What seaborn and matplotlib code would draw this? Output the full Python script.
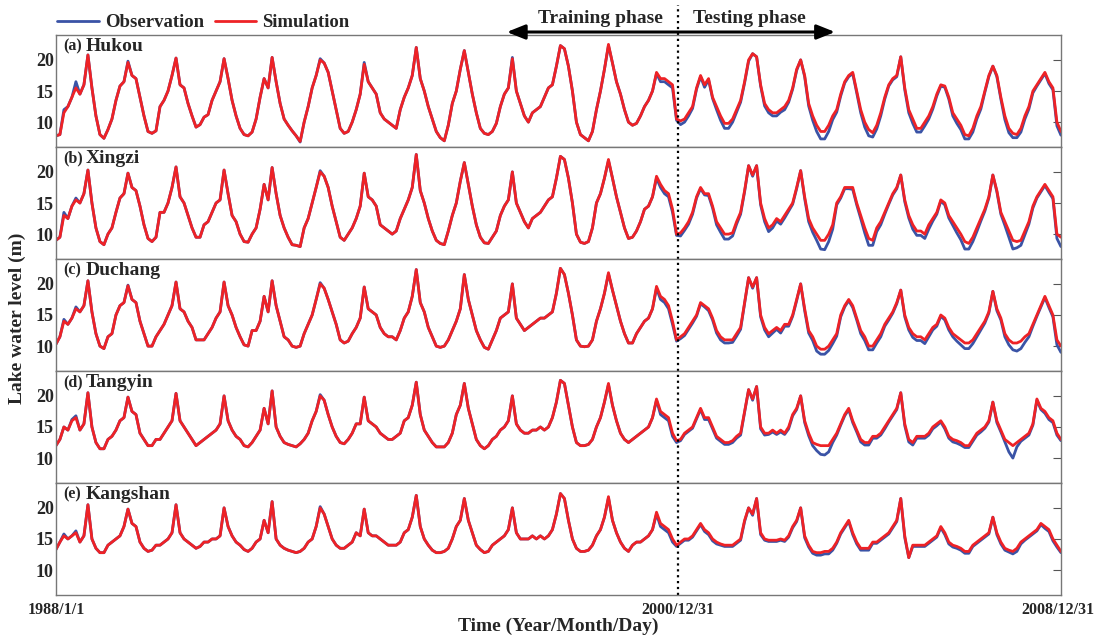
import numpy as np
import pandas as pd
import matplotlib
matplotlib.use("Agg")
import matplotlib.pyplot as plt
import matplotlib.dates as mdates
import matplotlib.transforms as mtransforms
import seaborn as sns

# monthly lake water level (m), Jan..Dec, one line per year 1988 ... 2008
hukou_obs = [
    7.8, 8.0, 12.0, 12.5, 14.0, 16.5, 14.5, 16.0, 20.8, 15.5, 11.0, 8.0,
    7.4, 8.8, 10.5, 13.5, 15.8, 16.5, 19.8, 17.5, 17.0, 14.0, 11.0, 8.5,
    8.2, 8.6, 12.5, 13.5, 15.0, 17.5, 20.3, 16.0, 15.5, 13.0, 11.0, 9.2,
    9.6, 10.8, 11.2, 13.5, 15.0, 16.5, 20.2, 17.0, 13.5, 11.0, 9.0, 8.0,
    7.8, 8.4, 10.5, 14.0, 17.0, 15.5, 20.4, 16.5, 13.0, 10.5, 9.5, 8.6,
    7.8, 6.8, 10.0, 12.5, 15.5, 17.5, 20.2, 19.5, 18.0, 15.0, 12.0, 9.0,
    8.2, 8.5, 10.0, 12.0, 14.5, 19.6, 16.5, 15.5, 14.5, 11.5, 10.5, 10.0,
    9.5, 9.0, 12.0, 14.0, 15.5, 17.5, 22.0, 17.0, 15.0, 12.5, 10.5, 8.5,
    7.5, 7.0, 9.5, 13.0, 15.0, 18.5, 21.5, 18.0, 14.5, 11.5, 9.0, 8.2,
    8.0, 8.5, 9.8, 12.5, 14.5, 15.5, 20.4, 15.0, 13.0, 11.0, 10.0, 11.5,
    12.0, 12.5, 14.0, 15.5, 16.0, 19.0, 22.3, 21.8, 19.0, 15.0, 10.0, 8.0,
    7.5, 7.0, 8.5, 12.0, 15.0, 18.5, 22.3, 19.5, 16.5, 14.5, 12.0, 10.0,
    9.5, 9.8, 11.0, 12.5, 13.5, 15.0, 17.8, 16.5, 16.5, 16.0, 15.5, 10.3,
    9.6, 10.0, 11.0, 12.2, 15.3, 17.3, 15.6, 16.8, 13.8, 12.0, 10.3, 9.0,
    9.0, 10.0, 11.6, 13.2, 16.3, 19.8, 21.0, 20.5, 15.8, 12.6, 11.5, 11.0,
    11.0, 11.6, 12.0, 13.2, 15.3, 18.3, 20.0, 17.3, 12.6, 10.3, 8.5, 7.3,
    7.3, 8.5, 10.4, 11.6, 14.2, 16.3, 17.3, 17.8, 14.7, 11.5, 9.2, 7.8,
    7.6, 8.9, 11.0, 13.7, 15.8, 16.8, 17.3, 20.5, 15.2, 11.5, 9.8, 8.4,
    8.4, 9.4, 10.5, 12.1, 14.2, 15.8, 15.6, 13.7, 11.0, 9.8, 8.8, 7.3,
    7.3, 8.4, 10.5, 12.1, 14.8, 17.3, 19.0, 17.3, 13.7, 10.4, 8.3, 7.5,
    7.5, 8.4, 10.5, 12.1, 14.7, 15.8, 16.8, 17.8, 16.2, 15.2, 9.4, 7.9,
]
hukou_sim = [
    7.8, 8.0, 11.5, 12.5, 14.0, 15.5, 14.5, 16.0, 20.8, 15.5, 11.0, 8.0,
    7.4, 8.8, 10.5, 13.5, 15.8, 16.5, 19.6, 17.5, 17.0, 14.0, 11.0, 8.5,
    8.2, 8.6, 12.5, 13.5, 15.0, 17.5, 20.3, 16.0, 15.5, 13.0, 11.0, 9.2,
    9.6, 10.8, 11.2, 13.5, 15.0, 16.5, 20.2, 17.0, 13.5, 11.0, 9.0, 8.0,
    7.8, 8.4, 10.5, 14.0, 17.0, 15.5, 20.4, 16.5, 13.0, 10.5, 9.5, 8.6,
    7.8, 6.9, 10.0, 12.5, 15.5, 17.5, 20.0, 19.5, 18.0, 15.0, 12.0, 9.0,
    8.2, 8.5, 10.0, 12.0, 14.5, 19.3, 16.5, 15.5, 14.5, 11.5, 10.5, 10.0,
    9.5, 9.0, 12.0, 14.0, 15.5, 17.5, 22.0, 17.0, 15.0, 12.5, 10.5, 8.5,
    7.5, 7.0, 9.5, 13.0, 15.0, 18.5, 21.5, 18.0, 14.5, 11.5, 9.0, 8.2,
    8.0, 8.5, 9.8, 12.5, 14.5, 15.5, 20.2, 15.0, 13.0, 11.0, 10.0, 11.5,
    12.0, 12.5, 14.0, 15.5, 16.0, 19.0, 22.3, 21.8, 19.0, 15.0, 10.0, 8.0,
    7.5, 7.0, 8.5, 12.0, 15.0, 18.5, 22.5, 19.5, 16.5, 14.5, 12.0, 10.0,
    9.5, 9.8, 11.0, 12.5, 13.5, 15.0, 18.0, 17.0, 17.0, 16.5, 16.0, 10.5,
    10.2, 10.5, 11.5, 12.5, 15.5, 17.5, 16.0, 17.0, 14.0, 12.5, 11.0, 9.8,
    9.8, 10.5, 12.0, 13.5, 16.5, 20.0, 21.0, 20.5, 16.0, 13.0, 12.0, 11.5,
    11.5, 12.0, 12.5, 13.5, 15.5, 18.5, 20.0, 17.5, 13.0, 11.0, 9.5, 8.5,
    8.5, 9.5, 11.0, 12.0, 14.5, 16.5, 17.5, 18.0, 15.0, 12.0, 10.0, 8.8,
    8.3, 9.5, 11.5, 14.0, 16.0, 17.0, 17.5, 20.5, 15.5, 12.0, 10.5, 9.0,
    9.0, 10.0, 11.0, 12.5, 14.5, 16.0, 15.8, 14.0, 11.5, 10.5, 9.5, 8.0,
    7.8, 9.0, 11.0, 12.5, 15.0, 17.5, 19.0, 17.5, 14.0, 11.0, 9.0, 8.2,
    8.0, 9.0, 11.0, 12.5, 15.0, 16.0, 17.0, 18.0, 16.5, 15.5, 10.0, 8.5,
]

xingzi_obs = [
    9.0, 9.5, 13.5, 12.5, 14.5, 15.8, 15.0, 16.5, 20.3, 15.0, 11.0, 8.8,
    8.3, 10.0, 11.0, 13.5, 15.8, 16.5, 19.8, 17.5, 17.0, 14.5, 11.5, 9.3,
    8.8, 9.5, 13.5, 13.5, 15.0, 17.5, 20.8, 16.0, 15.0, 13.0, 11.0, 9.5,
    9.5, 11.5, 12.0, 13.5, 15.0, 15.5, 20.3, 16.5, 13.0, 12.0, 10.0, 8.8,
    8.7, 10.0, 11.0, 14.0, 18.0, 15.5, 20.7, 16.5, 13.0, 11.0, 9.5, 8.3,
    8.2, 8.0, 11.0, 12.5, 15.0, 17.5, 20.2, 19.3, 17.5, 14.5, 12.0, 9.5,
    9.0, 10.0, 11.0, 12.5, 14.5, 19.8, 16.0, 15.5, 14.5, 11.5, 11.0, 10.5,
    10.0, 10.5, 12.5, 14.0, 15.5, 17.5, 22.8, 17.0, 15.0, 12.5, 10.5, 9.0,
    8.5, 8.3, 10.5, 13.0, 15.0, 18.5, 21.5, 18.0, 14.5, 11.5, 9.5, 8.6,
    8.5, 9.5, 10.5, 13.0, 14.5, 15.5, 20.0, 15.0, 13.5, 12.0, 11.0, 12.5,
    13.0, 13.5, 14.5, 15.5, 16.0, 19.0, 22.5, 22.0, 19.0, 15.0, 10.0, 8.7,
    8.5, 8.8, 11.0, 15.0, 16.5, 19.0, 21.8, 19.0, 16.0, 13.5, 11.0, 9.3,
    9.5, 10.5, 12.0, 14.0, 14.5, 16.0, 19.0, 17.5, 16.5, 16.0, 13.5, 9.8,
    9.7, 10.6, 11.6, 13.2, 15.8, 17.3, 16.3, 16.2, 14.2, 11.5, 10.3, 9.2,
    9.2, 9.7, 11.6, 13.2, 16.8, 21.0, 19.3, 21.0, 14.7, 12.0, 10.4, 11.0,
    12.1, 11.6, 12.6, 13.7, 14.8, 17.3, 20.2, 15.7, 12.0, 10.3, 9.0, 7.6,
    7.5, 8.8, 10.8, 14.7, 15.8, 17.3, 17.3, 17.2, 14.7, 12.5, 10.2, 8.2,
    8.2, 10.4, 11.5, 13.2, 14.8, 16.3, 17.3, 19.5, 15.2, 12.6, 10.8, 9.8,
    9.8, 9.3, 10.8, 12.1, 13.2, 15.3, 14.7, 12.6, 11.4, 10.2, 9.1, 7.6,
    7.6, 8.8, 10.4, 12.1, 13.7, 15.8, 19.5, 16.8, 13.2, 11.4, 9.5, 7.6,
    7.8, 8.2, 9.9, 11.6, 14.2, 15.8, 16.8, 17.8, 16.7, 15.7, 9.3, 8.0,
]
xingzi_sim = [
    9.0, 9.5, 13.0, 12.5, 14.5, 15.5, 15.0, 16.5, 20.3, 15.0, 11.0, 8.8,
    8.3, 10.0, 11.0, 13.5, 15.8, 16.5, 19.8, 17.5, 17.0, 14.5, 11.5, 9.3,
    8.8, 9.5, 13.5, 13.5, 15.0, 17.5, 20.8, 16.0, 15.0, 13.0, 11.0, 9.5,
    9.5, 11.5, 12.0, 13.5, 15.0, 15.5, 20.3, 16.5, 13.0, 12.0, 10.0, 8.8,
    8.7, 10.0, 11.0, 14.0, 18.0, 15.5, 20.7, 16.5, 13.0, 11.0, 9.5, 8.3,
    8.2, 8.0, 11.0, 12.5, 15.0, 17.5, 20.0, 19.3, 17.5, 14.5, 12.0, 9.5,
    9.0, 10.0, 11.0, 12.5, 14.5, 19.8, 16.0, 15.5, 14.5, 11.5, 11.0, 10.5,
    10.0, 10.5, 12.5, 14.0, 15.5, 17.5, 22.8, 17.0, 15.0, 12.5, 10.5, 9.0,
    8.5, 8.3, 10.5, 13.0, 15.0, 18.5, 21.5, 18.0, 14.5, 11.5, 9.5, 8.6,
    8.5, 9.5, 10.5, 13.0, 14.5, 15.5, 20.0, 15.0, 13.5, 12.0, 11.0, 12.5,
    13.0, 13.5, 14.5, 15.5, 16.0, 19.0, 22.5, 22.0, 19.0, 15.0, 10.0, 8.7,
    8.5, 8.8, 11.0, 15.0, 16.5, 19.0, 22.0, 19.0, 16.0, 13.5, 11.0, 9.3,
    9.5, 10.5, 12.0, 14.0, 14.5, 16.0, 19.3, 18.0, 17.0, 16.5, 14.0, 10.0,
    10.2, 11.0, 12.0, 13.5, 16.0, 17.5, 16.5, 16.5, 14.5, 12.0, 11.0, 10.0,
    10.0, 10.2, 12.0, 13.5, 17.0, 21.0, 19.5, 21.0, 15.0, 12.5, 11.0, 11.5,
    12.5, 12.0, 13.0, 14.0, 15.0, 17.5, 20.2, 16.0, 12.5, 11.0, 10.0, 9.0,
    9.0, 10.0, 11.5, 15.0, 16.0, 17.5, 17.5, 17.5, 15.0, 13.0, 11.0, 9.3,
    9.0, 11.0, 12.0, 13.5, 15.0, 16.5, 17.5, 19.5, 15.5, 13.0, 11.5, 10.5,
    10.5, 10.0, 11.5, 12.5, 13.5, 15.5, 15.0, 13.0, 12.0, 11.0, 10.0, 8.8,
    8.5, 9.5, 11.0, 12.5, 14.0, 16.0, 19.5, 17.0, 13.5, 12.0, 10.5, 9.0,
    8.8, 9.0, 10.5, 12.0, 14.5, 16.0, 17.0, 18.0, 17.0, 16.0, 10.0, 9.5,
]

duchang_obs = [
    10.3, 11.5, 14.3, 13.5, 14.5, 16.3, 15.5, 16.5, 20.5, 15.5, 12.0, 10.0,
    9.6, 11.5, 12.0, 15.0, 16.5, 17.0, 19.8, 17.5, 17.0, 14.0, 12.0, 10.0,
    10.0, 11.5, 12.5, 13.5, 15.0, 16.5, 20.3, 16.0, 15.5, 14.0, 13.0, 11.0,
    11.0, 11.0, 12.0, 13.0, 14.5, 15.5, 20.3, 16.5, 15.0, 13.0, 11.5, 10.2,
    10.0, 12.5, 12.5, 14.0, 18.0, 15.5, 20.5, 16.5, 14.0, 11.5, 11.0, 10.0,
    9.8, 10.0, 12.0, 13.5, 15.0, 17.5, 20.2, 19.3, 17.5, 15.5, 13.5, 11.0,
    10.5, 10.8, 12.0, 13.0, 14.5, 19.5, 16.0, 15.5, 15.0, 13.0, 12.0, 11.5,
    11.5, 11.0, 12.5, 14.5, 15.5, 18.0, 22.3, 17.0, 15.5, 13.0, 11.5, 10.0,
    9.8, 10.0, 11.0, 12.5, 14.0, 16.0, 21.5, 17.5, 15.0, 12.5, 11.0, 9.8,
    9.5, 11.0, 12.5, 14.5, 15.0, 15.5, 20.0, 14.5, 13.5, 12.5, 13.0, 13.5,
    14.0, 14.5, 14.5, 15.0, 15.5, 18.5, 22.5, 21.5, 18.5, 15.0, 11.0, 10.0,
    9.9, 10.0, 11.0, 14.0, 16.0, 18.5, 21.6, 19.0, 16.5, 14.0, 12.0, 10.5,
    10.5, 12.0, 13.0, 14.0, 14.5, 16.0, 19.3, 17.5, 17.0, 16.0, 13.5, 10.8,
    11.2, 11.7, 12.7, 13.7, 14.8, 16.8, 16.3, 15.7, 14.2, 12.1, 11.0, 10.5,
    10.5, 10.6, 11.6, 12.7, 16.8, 21.0, 19.3, 21.0, 14.7, 12.6, 11.5, 12.1,
    12.7, 12.1, 13.2, 13.2, 14.8, 17.3, 20.0, 15.7, 12.1, 10.9, 9.2, 8.7,
    8.7, 9.3, 10.4, 11.6, 14.7, 16.3, 17.3, 16.2, 14.2, 12.0, 10.9, 9.4,
    9.4, 10.5, 11.5, 13.2, 14.2, 15.3, 16.8, 19.0, 14.7, 12.6, 11.4, 10.9,
    10.9, 10.4, 11.5, 12.6, 13.2, 14.8, 14.2, 12.6, 11.5, 10.8, 10.2, 9.6,
    9.6, 10.4, 11.5, 12.6, 13.7, 15.3, 18.8, 15.7, 14.2, 11.5, 10.2, 9.4,
    9.2, 9.6, 10.6, 11.5, 13.2, 14.8, 16.3, 17.8, 16.2, 14.7, 10.2, 9.0,
]
duchang_sim = [
    10.3, 11.5, 14.0, 13.5, 14.5, 16.0, 15.5, 16.5, 20.5, 15.5, 12.0, 10.0,
    9.6, 11.5, 12.0, 15.0, 16.5, 17.0, 19.7, 17.5, 17.0, 14.0, 12.0, 10.0,
    10.0, 11.5, 12.5, 13.5, 15.0, 16.5, 20.3, 16.0, 15.5, 14.0, 13.0, 11.0,
    11.0, 11.0, 12.0, 13.0, 14.5, 15.5, 20.3, 16.5, 15.0, 13.0, 11.5, 10.2,
    10.0, 12.5, 12.5, 14.0, 18.0, 15.5, 20.5, 16.5, 14.0, 11.5, 11.0, 10.0,
    9.8, 10.0, 12.0, 13.5, 15.0, 17.5, 20.0, 19.3, 17.5, 15.5, 13.5, 11.0,
    10.5, 10.8, 12.0, 13.0, 14.5, 19.5, 16.0, 15.5, 15.0, 13.0, 12.0, 11.5,
    11.5, 11.0, 12.5, 14.5, 15.5, 18.0, 22.3, 17.0, 15.5, 13.0, 11.5, 10.0,
    9.8, 10.0, 11.0, 12.5, 14.0, 16.0, 21.5, 17.5, 15.0, 12.5, 11.0, 9.8,
    9.5, 11.0, 12.5, 14.5, 15.0, 15.5, 20.0, 14.5, 13.5, 12.5, 13.0, 13.5,
    14.0, 14.5, 14.5, 15.0, 15.5, 18.5, 22.5, 21.5, 18.5, 15.0, 11.0, 10.0,
    9.9, 10.0, 11.0, 14.0, 16.0, 18.5, 21.8, 19.0, 16.5, 14.0, 12.0, 10.5,
    10.5, 12.0, 13.0, 14.0, 14.5, 16.0, 19.6, 18.0, 17.5, 16.5, 14.0, 11.0,
    11.5, 12.0, 13.0, 14.0, 15.0, 17.0, 16.5, 16.0, 14.5, 12.5, 11.5, 11.0,
    11.0, 11.0, 12.0, 13.0, 17.0, 21.0, 19.5, 21.0, 15.0, 13.0, 12.0, 12.5,
    13.0, 12.5, 13.5, 13.5, 15.0, 17.5, 20.0, 16.0, 12.5, 11.5, 10.0, 9.5,
    9.5, 10.0, 11.0, 12.0, 15.0, 16.5, 17.5, 16.5, 14.5, 12.5, 11.5, 10.0,
    10.0, 11.0, 12.0, 13.5, 14.5, 15.5, 17.0, 19.0, 15.0, 13.0, 12.0, 11.5,
    11.5, 11.0, 12.0, 13.0, 13.5, 15.0, 14.5, 13.0, 12.0, 11.5, 11.0, 10.5,
    10.5, 11.0, 12.0, 13.0, 14.0, 15.5, 18.8, 16.0, 14.5, 12.0, 11.0, 10.5,
    10.5, 10.8, 11.5, 12.0, 13.5, 15.0, 16.5, 18.0, 16.5, 15.0, 11.0, 10.0,
]

tangyin_obs = [
    12.0, 13.0, 15.0, 14.5, 16.2, 16.8, 14.5, 15.5, 20.5, 15.0, 12.5, 11.5,
    11.5, 13.0, 13.5, 14.5, 16.0, 16.5, 19.8, 17.5, 17.0, 14.0, 13.0, 12.0,
    12.0, 13.0, 13.0, 14.0, 15.0, 16.0, 20.4, 16.0, 15.0, 14.0, 13.0, 12.0,
    12.5, 13.0, 13.5, 14.0, 14.5, 15.5, 20.0, 16.0, 14.5, 13.5, 13.0, 12.0,
    11.8, 12.5, 13.5, 14.5, 18.0, 15.5, 20.8, 15.0, 13.5, 12.5, 12.2, 12.0,
    11.8, 12.3, 13.0, 14.0, 16.0, 17.5, 20.2, 19.3, 17.0, 15.0, 13.5, 12.5,
    12.3, 13.0, 14.0, 15.5, 15.5, 19.8, 16.0, 15.5, 15.0, 14.0, 13.5, 13.0,
    13.0, 13.5, 14.0, 16.0, 16.5, 18.5, 22.2, 17.0, 14.5, 13.5, 12.5, 11.8,
    11.8, 11.8, 12.5, 14.0, 17.0, 18.5, 22.0, 18.0, 15.5, 13.0, 12.0, 11.5,
    12.0, 13.0, 13.5, 14.5, 15.0, 16.0, 20.0, 15.5, 14.5, 14.0, 14.0, 14.5,
    14.5, 15.0, 14.5, 15.0, 16.5, 19.0, 22.5, 22.0, 18.5, 15.0, 12.5, 12.0,
    12.0, 12.2, 13.0, 15.0, 16.5, 19.0, 21.8, 18.5, 16.0, 14.0, 13.0, 12.5,
    13.0, 13.5, 14.0, 14.5, 15.0, 16.5, 19.3, 17.0, 16.5, 16.0, 13.5, 12.5,
    12.8, 13.8, 14.3, 14.8, 16.3, 17.8, 16.2, 16.2, 14.7, 13.2, 12.7, 12.2,
    12.2, 12.5, 13.2, 13.7, 17.3, 21.0, 19.3, 21.5, 14.7, 13.7, 13.8, 14.2,
    13.8, 14.2, 13.8, 14.7, 16.8, 17.8, 20.0, 15.7, 13.6, 12.0, 11.2, 10.6,
    10.5, 11.0, 12.5, 13.7, 15.3, 16.8, 17.8, 15.7, 14.2, 12.6, 12.1, 12.1,
    13.2, 13.2, 13.7, 14.7, 15.8, 16.8, 17.8, 20.5, 15.2, 12.6, 12.1, 13.2,
    13.2, 13.2, 13.7, 14.7, 15.2, 15.8, 14.7, 13.2, 12.6, 12.4, 12.1, 11.7,
    11.7, 12.7, 13.7, 14.2, 14.8, 15.8, 19.0, 15.7, 14.2, 12.6, 11.0, 10.0,
    11.8, 12.7, 13.2, 13.7, 15.3, 19.3, 17.8, 17.2, 16.2, 15.7, 13.7, 12.8,
]
tangyin_sim = [
    12.0, 13.0, 15.0, 14.5, 16.0, 16.5, 14.5, 15.5, 20.5, 15.0, 12.5, 11.5,
    11.5, 13.0, 13.5, 14.5, 16.0, 16.5, 19.8, 17.5, 17.0, 14.0, 13.0, 12.0,
    12.0, 13.0, 13.0, 14.0, 15.0, 16.0, 20.4, 16.0, 15.0, 14.0, 13.0, 12.0,
    12.5, 13.0, 13.5, 14.0, 14.5, 15.5, 20.0, 16.0, 14.5, 13.5, 13.0, 12.0,
    11.8, 12.5, 13.5, 14.5, 18.0, 15.5, 20.8, 15.0, 13.5, 12.5, 12.2, 12.0,
    11.8, 12.3, 13.0, 14.0, 16.0, 17.5, 20.0, 19.3, 17.0, 15.0, 13.5, 12.5,
    12.3, 13.0, 14.0, 15.5, 15.5, 19.8, 16.0, 15.5, 15.0, 14.0, 13.5, 13.0,
    13.0, 13.5, 14.0, 16.0, 16.5, 18.5, 22.2, 17.0, 14.5, 13.5, 12.5, 11.8,
    11.8, 11.8, 12.5, 14.0, 17.0, 18.5, 22.0, 18.0, 15.5, 13.0, 12.0, 11.5,
    12.0, 13.0, 13.5, 14.5, 15.0, 16.0, 20.0, 15.5, 14.5, 14.0, 14.0, 14.5,
    14.5, 15.0, 14.5, 15.0, 16.5, 19.0, 22.5, 22.0, 18.5, 15.0, 12.5, 12.0,
    12.0, 12.2, 13.0, 15.0, 16.5, 19.0, 22.0, 18.5, 16.0, 14.0, 13.0, 12.5,
    13.0, 13.5, 14.0, 14.5, 15.0, 16.5, 19.5, 17.5, 17.0, 16.5, 14.0, 12.8,
    13.0, 14.0, 14.5, 15.0, 16.5, 18.0, 16.5, 16.5, 15.0, 13.5, 13.0, 12.5,
    12.5, 12.8, 13.5, 14.0, 17.5, 21.0, 19.5, 21.5, 15.0, 14.0, 14.0, 14.5,
    14.0, 14.5, 14.0, 15.0, 17.0, 18.0, 20.0, 16.0, 14.0, 12.5, 12.2, 12.0,
    12.0, 12.0, 13.0, 14.0, 15.5, 17.0, 18.0, 16.0, 14.5, 13.0, 12.5, 12.5,
    13.5, 13.5, 14.0, 15.0, 16.0, 17.0, 18.0, 20.5, 15.5, 13.0, 12.5, 13.5,
    13.5, 13.5, 14.0, 15.0, 15.5, 16.0, 15.0, 13.5, 13.0, 12.8, 12.5, 12.0,
    12.0, 13.0, 14.0, 14.5, 15.0, 16.0, 19.0, 16.0, 14.5, 13.0, 12.5, 12.0,
    12.5, 13.0, 13.5, 14.0, 15.5, 19.5, 18.0, 17.5, 16.5, 16.0, 14.0, 13.0,
]

kangshan_obs = [
    13.3, 14.5, 15.8, 15.0, 15.5, 16.3, 14.5, 15.5, 20.5, 15.0, 13.5, 12.8,
    12.8, 14.0, 14.5, 15.0, 15.5, 17.0, 19.8, 17.5, 17.0, 14.5, 13.5, 13.0,
    13.2, 14.0, 14.0, 14.5, 15.0, 16.0, 20.5, 16.0, 15.0, 14.5, 14.0, 13.5,
    13.8, 14.5, 14.5, 15.0, 15.0, 15.5, 20.0, 17.0, 15.5, 14.5, 14.0, 13.3,
    13.0, 13.5, 14.5, 15.0, 18.0, 16.0, 21.0, 15.0, 14.0, 13.5, 13.2, 13.0,
    12.8, 13.0, 13.5, 14.5, 15.0, 17.0, 20.2, 19.0, 17.0, 15.0, 14.0, 13.5,
    13.5, 14.0, 14.5, 16.0, 15.5, 19.8, 16.0, 15.5, 15.5, 15.0, 14.5, 14.0,
    14.0, 14.0, 14.5, 16.0, 16.5, 18.5, 22.0, 17.0, 15.0, 14.0, 13.2, 12.8,
    12.8, 13.0, 13.5, 15.0, 17.0, 18.0, 21.5, 18.0, 16.0, 14.0, 13.3, 12.8,
    13.0, 14.0, 14.5, 15.0, 15.5, 16.5, 20.0, 16.0, 15.0, 15.0, 15.0, 15.5,
    15.0, 15.5, 15.0, 15.5, 16.5, 19.0, 22.3, 21.5, 18.0, 15.0, 13.5, 13.0,
    13.0, 13.2, 14.0, 15.5, 16.5, 18.5, 21.6, 18.0, 16.0, 14.5, 13.5, 13.0,
    14.0, 14.5, 14.5, 15.0, 15.5, 16.5, 19.0, 17.0, 16.5, 16.0, 14.5, 13.8,
    14.3, 14.8, 14.8, 15.3, 16.3, 17.3, 16.2, 15.7, 14.7, 14.2, 14.0, 13.8,
    13.8, 13.8, 14.3, 14.8, 17.8, 20.0, 18.8, 21.5, 15.7, 14.8, 14.6, 14.6,
    14.6, 14.8, 14.6, 15.3, 16.8, 17.8, 20.0, 15.2, 13.7, 12.7, 12.4, 12.4,
    12.6, 12.6, 13.2, 14.3, 15.8, 16.8, 17.8, 15.7, 14.2, 13.2, 13.2, 13.2,
    14.3, 14.3, 14.8, 15.3, 15.8, 16.8, 17.8, 21.5, 15.2, 12.0, 13.8, 13.8,
    13.8, 13.8, 14.3, 14.8, 15.3, 16.8, 15.7, 14.2, 13.7, 13.5, 13.2, 12.7,
    12.7, 13.8, 14.3, 14.8, 15.3, 15.8, 18.5, 15.7, 14.2, 13.2, 12.9, 12.6,
    13.0, 14.2, 14.8, 15.3, 15.8, 16.3, 17.3, 16.7, 16.2, 14.7, 13.7, 12.8,
]
kangshan_sim = [
    13.3, 14.5, 15.5, 15.0, 15.5, 16.0, 14.5, 15.5, 20.5, 15.0, 13.5, 12.8,
    12.8, 14.0, 14.5, 15.0, 15.5, 17.0, 19.8, 17.5, 17.0, 14.5, 13.5, 13.0,
    13.2, 14.0, 14.0, 14.5, 15.0, 16.0, 20.5, 16.0, 15.0, 14.5, 14.0, 13.5,
    13.8, 14.5, 14.5, 15.0, 15.0, 15.5, 20.0, 17.0, 15.5, 14.5, 14.0, 13.3,
    13.0, 13.5, 14.5, 15.0, 18.0, 16.0, 21.0, 15.0, 14.0, 13.5, 13.2, 13.0,
    12.8, 13.0, 13.5, 14.5, 15.0, 17.0, 20.0, 19.0, 17.0, 15.0, 14.0, 13.5,
    13.5, 14.0, 14.5, 16.0, 15.5, 19.8, 16.0, 15.5, 15.5, 15.0, 14.5, 14.0,
    14.0, 14.0, 14.5, 16.0, 16.5, 18.5, 22.0, 17.0, 15.0, 14.0, 13.2, 12.8,
    12.8, 13.0, 13.5, 15.0, 17.0, 18.0, 21.5, 18.0, 16.0, 14.0, 13.3, 12.8,
    13.0, 14.0, 14.5, 15.0, 15.5, 16.5, 20.0, 16.0, 15.0, 15.0, 15.0, 15.5,
    15.0, 15.5, 15.0, 15.5, 16.5, 19.0, 22.3, 21.5, 18.0, 15.0, 13.5, 13.0,
    13.0, 13.2, 14.0, 15.5, 16.5, 18.5, 21.8, 18.0, 16.0, 14.5, 13.5, 13.0,
    14.0, 14.5, 14.5, 15.0, 15.5, 16.5, 19.3, 17.5, 17.0, 16.5, 15.0, 14.0,
    14.5, 15.0, 15.0, 15.5, 16.5, 17.5, 16.5, 16.0, 15.0, 14.5, 14.2, 14.0,
    14.0, 14.0, 14.5, 15.0, 18.0, 20.0, 19.0, 21.5, 16.0, 15.0, 14.8, 14.8,
    14.8, 15.0, 14.8, 15.5, 17.0, 18.0, 20.0, 15.5, 14.0, 13.0, 12.8, 12.8,
    13.0, 13.0, 13.5, 14.5, 16.0, 17.0, 18.0, 16.0, 14.5, 13.5, 13.5, 13.5,
    14.5, 14.5, 15.0, 15.5, 16.0, 17.0, 18.0, 21.5, 15.5, 12.0, 14.0, 14.0,
    14.0, 14.0, 14.5, 15.0, 15.5, 17.0, 16.0, 14.5, 14.0, 13.8, 13.5, 13.0,
    13.0, 14.0, 14.5, 15.0, 15.5, 16.0, 18.5, 16.0, 14.5, 13.5, 13.2, 13.0,
    13.5, 14.5, 15.0, 15.5, 16.0, 16.5, 17.5, 17.0, 16.5, 15.0, 14.0, 13.0,
]

letters = ["(a)", "(b)", "(c)", "(d)", "(e)"]
stations = ["Hukou", "Xingzi", "Duchang", "Tangyin", "Kangshan"]
observed = [hukou_obs, xingzi_obs, duchang_obs, tangyin_obs, kangshan_obs]
simulated = [hukou_sim, xingzi_sim, duchang_sim, tangyin_sim, kangshan_sim]

start, split, end = pd.Timestamp("1988-01-01"), pd.Timestamp("2000-12-31"), pd.Timestamp("2008-12-31")
dates = pd.date_range(start, end, periods=len(hukou_obs))

sns.set_style("white")
plt.rcParams["font.family"] = ["Liberation Serif", "DejaVu Serif"]
plt.rcParams["font.weight"] = "bold"

blue = "#3a53a6"
red = "#ee2226"

fig, axes = plt.subplots(5, 1, figsize=(10.96, 6.37), dpi=100, sharex=True)
fig.subplots_adjust(left=0.051, right=0.968, top=0.945, bottom=0.066, hspace=0)

for ax, letter, name, obs, sim in zip(axes, letters, stations, observed, simulated):
    df = pd.DataFrame({"date": dates, "Observation": obs, "Simulation": sim})
    sns.lineplot(data=df, x="date", y="Observation", ax=ax, color=blue, lw=2.0, label="Observation", legend=False)
    sns.lineplot(data=df, x="date", y="Simulation", ax=ax, color=red, lw=2.0, label="Simulation", legend=False)
    ax.axvline(split, color="black", ls=":", lw=1.6)
    ax.set_ylim(6, 24)
    ax.set_xlim(start, end)
    ax.set_yticks([10, 15, 20])
    ax.tick_params(axis="y", direction="in", length=6, right=True, labelsize=13, color="#555555", pad=1.5)
    ax.tick_params(axis="x", length=0, labelsize=11.5, pad=5)
    ax.set_ylabel("")
    ax.set_xlabel("")
    for s in ax.spines.values():
        s.set_color("#777777")
        s.set_linewidth(1.0)
    ax.text(0.007, 0.97, letter, transform=ax.transAxes, fontsize=11.5, fontweight="bold", va="top")
    ax.text(0.030, 0.975, name, transform=ax.transAxes, fontsize=14, fontweight="bold", va="top")

bottom = axes[-1]
bottom.set_xticks([start, split, end])
bottom.set_xticklabels(["1988/1/1", "2000/12/31", "2008/12/31"], fontweight="bold")
last = bottom.get_xticklabels()[-1]
last.set_transform(last.get_transform() + mtransforms.ScaledTranslation(-0.03, 0, fig.dpi_scale_trans))
bottom.set_xlabel("Time (Year/Month/Day)", fontsize=14, fontweight="bold", labelpad=0)
fig.text(0.016, 0.5, "Lake water level (m)", rotation=90, va="center", ha="center", fontsize=14, fontweight="bold")

# phase markers above the top panel
top = axes[0]
trans = mtransforms.blended_transform_factory(top.transData, top.transAxes)
top.plot([split, split], [1.0, 1.27], transform=trans, color="black", ls=":", lw=1.6, clip_on=False)
x_left = mdates.date2num(pd.Timestamp("1997-06-03"))
x_right = mdates.date2num(pd.Timestamp("2004-04-12"))
top.annotate("", xy=(x_left, 1.027), xytext=(x_right, 1.027), xycoords=trans, textcoords=trans,
             arrowprops=dict(arrowstyle="<|-|>,head_length=0.55,head_width=0.22", lw=2.2,
                             color="black", mutation_scale=20, shrinkA=0, shrinkB=0))
top.text(mdates.date2num(pd.Timestamp("2000-09-06")), 1.107, "Training phase", transform=trans,
         ha="right", va="baseline", fontsize=14, fontweight="bold")
top.text(mdates.date2num(pd.Timestamp("2001-04-22")), 1.107, "Testing phase", transform=trans,
         ha="left", va="baseline", fontsize=14, fontweight="bold")

handles, labels = axes[0].get_legend_handles_labels()
fig.legend(handles, labels, loc="upper left", bbox_to_anchor=(0.037, 1.004), ncol=2, frameon=False,
           prop={"size": 13.5, "weight": "bold"}, handlelength=2.2, handletextpad=0.35, columnspacing=0.55)

fig.savefig("out.png", dpi=100)
